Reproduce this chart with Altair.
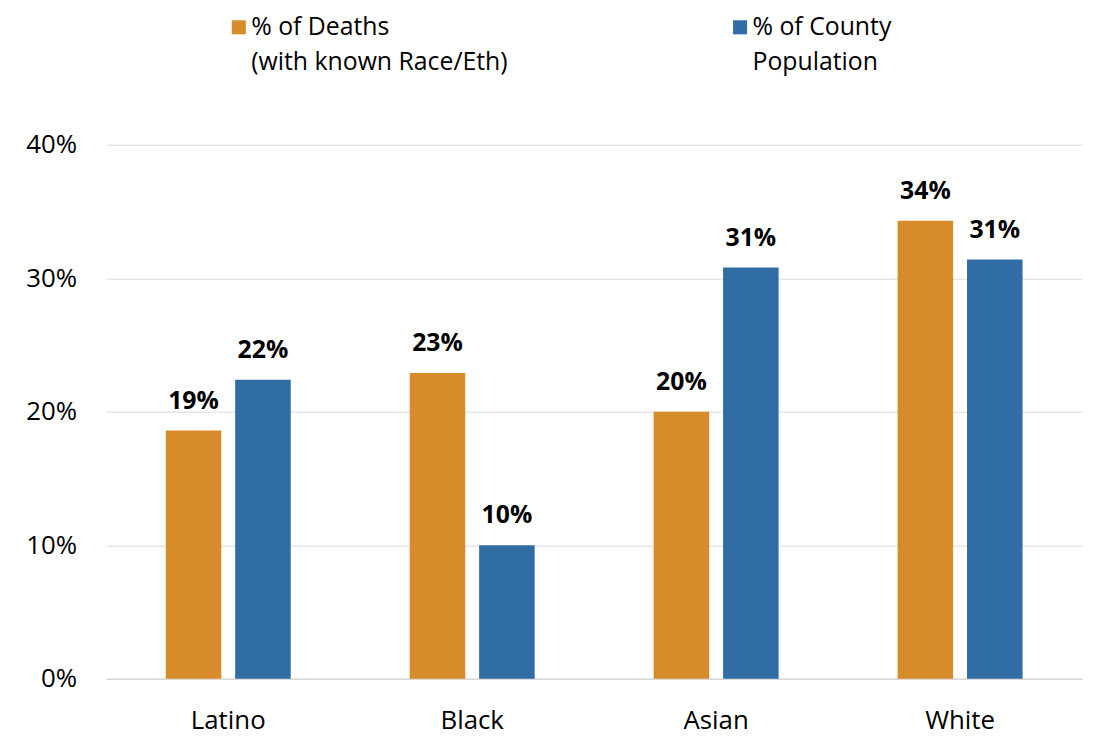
import altair as alt
import pandas as pd

categories = ["Latino", "Black", "Asian", "White"]
series = ["% of Deaths", "% of County Population"]
deaths = [0.186, 0.229, 0.200, 0.343]
population = [0.224, 0.100, 0.308, 0.314]
colors = ["#D78B2B", "#306DA5"]

rows = []
for c, d, p in zip(categories, deaths, population):
    rows.append({"cat": c, "series": series[0], "value": d})
    rows.append({"cat": c, "series": series[1], "value": p})
df = pd.DataFrame(rows)

FONT = "Open Sans"

x = alt.X("cat:N", sort=categories, title=None,
          scale=alt.Scale(paddingInner=0, paddingOuter=0),
          axis=alt.Axis(labelAngle=0, labelFontSize=26, labelColor="#000000", labelFont=FONT,
                        ticks=False, domainColor="#D9D9D9", domainWidth=1.5, labelPadding=29))
xo = alt.XOffset("series:N", sort=series,
                 scale=alt.Scale(paddingInner=0.2, paddingOuter=0.857))
y = alt.Y("value:Q", title=None,
          scale=alt.Scale(domain=[0, 0.4]),
          axis=alt.Axis(format=".0%", values=[0, 0.1, 0.2, 0.3, 0.4], labelFontSize=26,
                        labelColor="#000000", labelFont=FONT, ticks=False, domain=False,
                        gridColor="#E6E6E6", gridWidth=1.5, labelPadding=30))

color = alt.Color("series:N", sort=series,
                  scale=alt.Scale(domain=series, range=colors),
                  legend=alt.Legend(
                      title=None, orient="none", direction="horizontal",
                      legendX=121, legendY=-131,
                      symbolType="square", symbolSize=200, symbolStrokeWidth=0,
                      labelFontSize=25, labelFont=FONT, labelColor="#000000",
                      labelLimit=0, columnPadding=221, labelBaseline="middle", labelOffset=0,
                      labelExpr="datum.label == '% of Deaths' ? ['% of Deaths', '(with known Race/Eth)'] : ['% of County', 'Population']"))

bars = alt.Chart(df).mark_bar().encode(x=x, xOffset=xo, y=y, color=color)
labels = alt.Chart(df).mark_text(dy=-17, fontSize=25, fontWeight="bold", font=FONT,
                                 color="#000000", baseline="bottom").encode(
    x=alt.X("cat:N", sort=categories), xOffset=alt.XOffset("series:N", sort=series),
    y="value:Q", text=alt.Text("value:Q", format=".0%"))

chart = alt.layer(bars, labels).properties(
    width=983, height=538,
    autosize=alt.AutoSizeParams(type="none"),
    padding={"left": 99, "top": 135, "right": 7, "bottom": 56},
).configure(
    background="#FFFFFF",
    view=alt.ViewConfig(stroke=None, strokeWidth=0),
    style={"guide-label": {"lineHeight": 35}},
)

chart.save("out.html", embed_options={"renderer": "svg", "actions": False})
